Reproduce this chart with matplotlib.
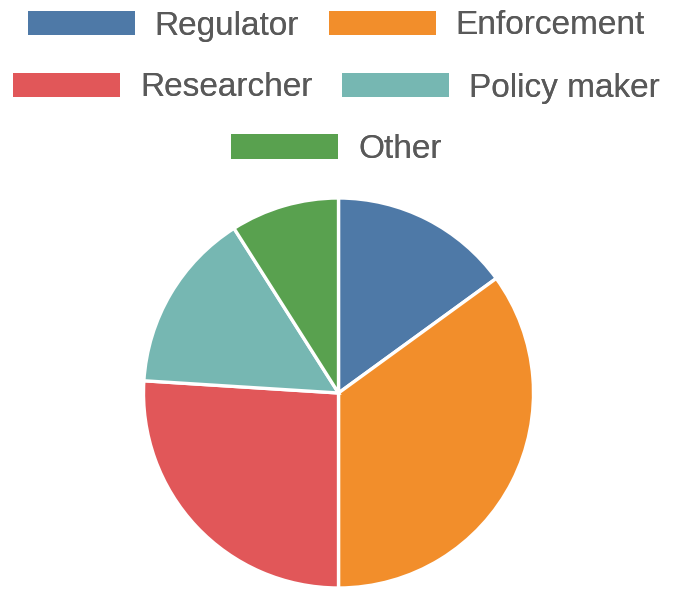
import matplotlib.pyplot as plt
from matplotlib.patches import Patch

# share of respondents by role (percent)
roles = ["Regulator", "Enforcement", "Researcher", "Policy maker", "Other"]
shares = [15, 35, 26, 15, 9]
colors = ["#4e79a7", "#f28e2b", "#e15759", "#76b7b2", "#59a14f"]

plt.rcParams['font.family'] = ['Liberation Sans', 'DejaVu Sans']

W, H = 673, 591
fig = plt.figure(figsize=(W / 100, H / 100), dpi=100)

# pie centred at (338, 393) px with radius 195 px
cx, cy, r = 338.5, 393, 195
ax = fig.add_axes([(cx - r) / W, (H - cy - r) / H, 2 * r / W, 2 * r / H])
ax.pie(shares, colors=colors, startangle=90, counterclock=False,
       wedgeprops=dict(edgecolor="white", linewidth=2.4))
ax.set_xlim(-1, 1)
ax.set_ylim(-1, 1)
ax.set_aspect("equal")
ax.axis("off")

# legend rows, each centred on its own
rows = [[0, 1], [2, 3], [4]]
row_y = [26, 88, 149.5]
for idx, y in zip(rows, row_y):
    handles = [Patch(facecolor=colors[i], edgecolor="none") for i in idx]
    labels = [roles[i] for i in idx]
    leg = fig.legend(handles, labels, loc="center", ncol=len(idx),
                     bbox_to_anchor=(0.5, 1 - y / H), frameon=False,
                     fontsize=24, handlelength=3.2, handleheight=0.75,
                     handletextpad=0.6, columnspacing=0.9, borderpad=0,
                     labelcolor="#595959")
    fig.add_artist(leg)

fig.savefig("out.png", dpi=100, facecolor="white")
